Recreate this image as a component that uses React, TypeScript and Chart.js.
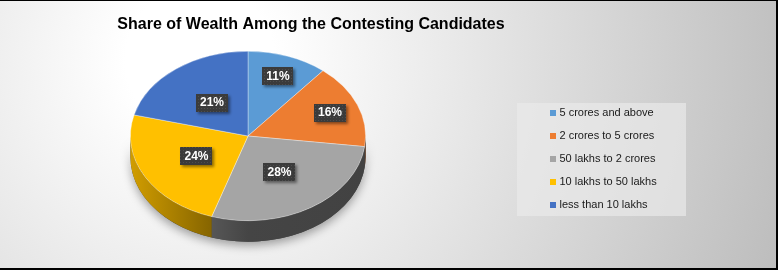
import React, { useEffect, useRef } from "react";
import { Chart, registerables } from "chart.js";

Chart.register(...registerables);

// ---------- data ----------
const TITLE = "Share of Wealth Among the Contesting Candidates";
const categories = [
  "5 crores and above",
  "2 crores to 5 crores",
  "50 lakhs to 2 crores",
  "10 lakhs to 50 lakhs",
  "less than 10 lakhs",
];
const shares = [11, 16, 28, 24, 21];
const colors = ["#5B9BD5", "#ED7D31", "#A5A5A5", "#FFC000", "#4472C4"];

// ---------- layout / style ----------
const W = 778;
const H = 270;
const PIE = { cx: 248, cy: 136, rx: 118, ry: 85, depth: 21 };
const LEGEND_BOX = { x: 517, y: 103, w: 169, h: 113 };
const TITLE_CX = 311;
const FONT = "'Liberation Sans', Arial, sans-serif";

function shade(hex: string, f: number): string {
  const n = parseInt(hex.slice(1), 16);
  const r = (n >> 16) & 255;
  const g = (n >> 8) & 255;
  const b = n & 255;
  return `rgb(${Math.round(r * f)},${Math.round(g * f)},${Math.round(b * f)})`;
}

function makeDotPattern(ctx: CanvasRenderingContext2D) {
  const c = document.createElement("canvas");
  c.width = 3;
  c.height = 3;
  const p = c.getContext("2d")!;
  p.fillStyle = "#3b3b3b";
  p.fillRect(0, 0, 3, 3);
  p.fillStyle = "#4d4d4d";
  p.fillRect(0, 0, 1, 1);
  return ctx.createPattern(c, "repeat");
}

const pie3d = {
  id: "pie3d",
  beforeDraw(chart: any) {
    const { ctx } = chart;
    ctx.save();
    const g = ctx.createRadialGradient(200, 60, 0, 200, 60, 620);
    g.addColorStop(0, "#ffffff");
    g.addColorStop(0.12, "#ffffff");
    g.addColorStop(1, "#bcbcbc");
    ctx.fillStyle = g;
    ctx.fillRect(0, 0, W, H);
    ctx.fillStyle = "rgba(234,234,234,0.67)";
    ctx.fillRect(LEGEND_BOX.x, LEGEND_BOX.y, LEGEND_BOX.w, LEGEND_BOX.h);
    ctx.fillStyle = "#000";
    ctx.fillRect(0, 0, W, 1);
    ctx.fillRect(W - 2, 0, 2, H);
    ctx.fillRect(0, H - 2, W, 2);
    ctx.restore();
  },
  afterLayout(chart: any) {
    chart.chartArea = {
      left: PIE.cx - PIE.rx,
      right: PIE.cx + PIE.rx,
      top: PIE.cy - PIE.rx,
      bottom: PIE.cy + PIE.rx,
      width: 2 * PIE.rx,
      height: 2 * PIE.rx,
    };
    const lg = chart.legend;
    if (lg) {
      const w = lg.width;
      lg.left = LEGEND_BOX.x + 23;
      lg.right = lg.left + w;
      lg.top = 90;
      lg.bottom = 228;
      lg.height = lg.bottom - lg.top;
    }
    const tb = chart.titleBlock;
    if (tb) {
      tb.left = TITLE_CX - 300;
      tb.right = TITLE_CX + 300;
      tb.width = 600;
    }
  },
  beforeDatasetsDraw(chart: any) {
    const { ctx } = chart;
    const arcs = chart.getDatasetMeta(0).data;
    const a0 = arcs[0];
    const cx = a0.x;
    const cy = a0.y;
    const R = a0.outerRadius;
    const s = PIE.ry / PIE.rx;
    const dl = PIE.depth / s;
    ctx.save();
    ctx.translate(cx, cy);
    ctx.scale(1, s);
    ctx.translate(-cx, -cy);
    // soft shadow under the side wall
    ctx.save();
    ctx.shadowColor = "rgba(0,0,0,0.35)";
    ctx.shadowBlur = 10;
    ctx.shadowOffsetY = 4;
    ctx.beginPath();
    ctx.arc(cx, cy, R, 0, Math.PI);
    ctx.arc(cx, cy + dl, R, Math.PI, 0, true);
    ctx.closePath();
    ctx.fillStyle = "#444";
    ctx.fill();
    ctx.restore();
    arcs.forEach((arc: any, i: number) => {
      const a1 = Math.max(arc.startAngle, 0);
      const a2 = Math.min(arc.endAngle, Math.PI);
      if (a2 <= a1) return;
      const col = colors[i];
      const g = ctx.createLinearGradient(cx - R, 0, cx + R, 0);
      g.addColorStop(0, shade(col, 0.82));
      g.addColorStop(0.35, shade(col, 0.52));
      g.addColorStop(0.5, shade(col, 0.42));
      g.addColorStop(1, shade(col, 0.4));
      ctx.beginPath();
      ctx.arc(cx, cy, R, a1, a2);
      ctx.arc(cx, cy + dl, R, a2, a1, true);
      ctx.closePath();
      ctx.fillStyle = g;
      ctx.fill();
    });
    // transform stays active while Chart.js draws the top face
  },
  afterDatasetsDraw(chart: any) {
    const { ctx } = chart;
    ctx.restore();
    const arcs = chart.getDatasetMeta(0).data;
    const data = chart.data.datasets[0].data as number[];
    const total = data.reduce((a, b) => a + b, 0);
    const s = PIE.ry / PIE.rx;
    const pattern = makeDotPattern(ctx);
    ctx.save();
    ctx.font = `bold 12px ${FONT}`;
    ctx.textAlign = "center";
    ctx.textBaseline = "middle";
    arcs.forEach((arc: any, i: number) => {
      const v = data[i];
      const pct = (v / total) * 100;
      const f = pct < 20 ? 0.75 : 0.5;
      const mid = (arc.startAngle + arc.endAngle) / 2;
      const r = arc.outerRadius * f;
      const px = arc.x + r * Math.cos(mid);
      const py = arc.y + s * r * Math.sin(mid);
      const text = `${Math.round(pct)}%`;
      const tw = ctx.measureText(text).width;
      const bw = tw + 8;
      const bh = 18;
      ctx.save();
      ctx.shadowColor = "rgba(0,0,0,0.45)";
      ctx.shadowBlur = 3;
      ctx.shadowOffsetX = 2;
      ctx.shadowOffsetY = 2;
      ctx.fillStyle = pattern || "#404040";
      ctx.fillRect(Math.round(px - bw / 2), Math.round(py - bh / 2), Math.round(bw), bh);
      ctx.restore();
      ctx.fillStyle = "#ffffff";
      ctx.fillText(text, px, py + 0.5);
    });
    ctx.restore();
  },
};

export default function App() {
  const ref = useRef<HTMLCanvasElement | null>(null);

  useEffect(() => {
    document.body.style.margin = "0";
    const canvas = ref.current;
    if (!canvas) return;
    const baseLabels = (Chart as any).overrides.doughnut.plugins.legend.labels.generateLabels;
    const chart = new Chart(canvas, {
      type: "pie",
      data: {
        labels: categories,
        datasets: [
          {
            data: shares,
            backgroundColor: colors,
            borderColor: "rgba(255,255,255,0.5)",
            borderWidth: 0.8,
          },
        ],
      },
      options: {
        responsive: false,
        animation: false,
        devicePixelRatio: 1,
        events: [],
        layout: { padding: 0 },
        plugins: {
          tooltip: { enabled: false },
          title: {
            display: true,
            text: TITLE,
            color: "#000000",
            font: { family: FONT, size: 16, weight: "bold" },
            padding: { top: 15, bottom: 10 },
          },
          legend: {
            display: true,
            position: "right",
            align: "center",
            labels: {
              color: "#1a1a1a",
              font: { family: FONT, size: 11 },
              usePointStyle: true,
              pointStyle: "rect",
              boxWidth: 2,
              boxHeight: 6,
              padding: 12,
              generateLabels(c: any) {
                return baseLabels(c).map((it: any) => ({
                  ...it,
                  pointStyle: "rect",
                  lineWidth: 0,
                  strokeStyle: "rgba(0,0,0,0)",
                }));
              },
            },
          },
        },
      } as any,
      plugins: [pie3d as any],
    });
    return () => chart.destroy();
  }, []);

  return (
    <div style={{ width: W, height: H, position: "relative" }}>
      <canvas ref={ref} width={W} height={H} style={{ display: "block", width: W, height: H }} />
    </div>
  );
}
